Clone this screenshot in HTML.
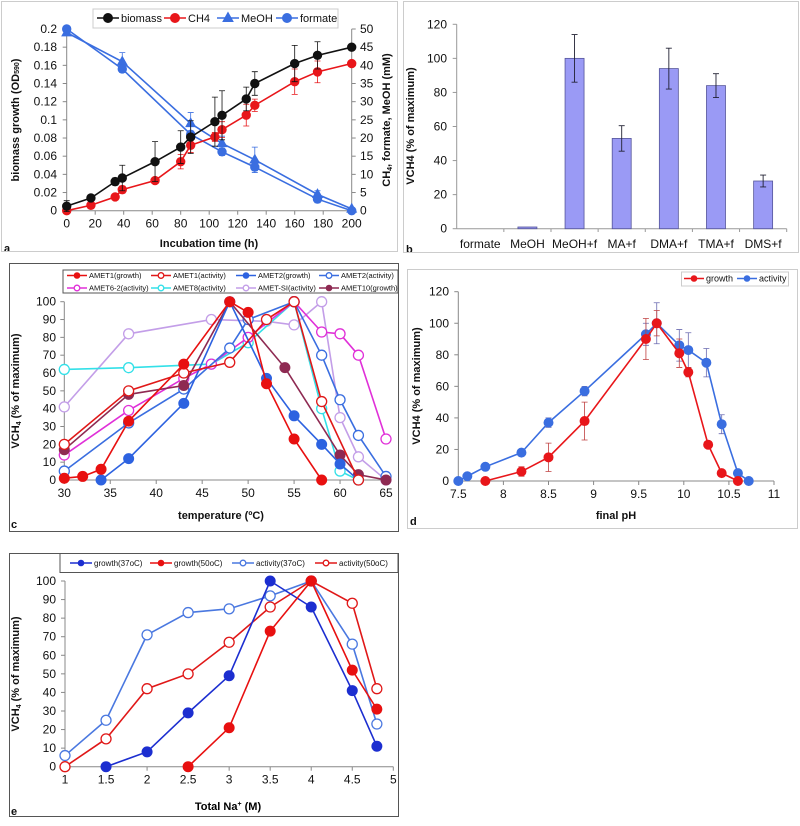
<!DOCTYPE html>
<html><head><meta charset="utf-8"><style>
html,body{margin:0;padding:0;background:#fff;}
svg{display:block;font-family:"Liberation Sans",Arial,sans-serif;}
</style></head><body>
<svg id="fig" width="800" height="826" viewBox="0 0 800 826" xmlns="http://www.w3.org/2000/svg"></svg>
<script>
// ---------- Panel a data ----------
const aBioX=[0,17,34,39,62,80,87,104,109,126,132,160,176,200];
const aBioY=[0.005,0.014,0.032,0.036,0.054,0.070,0.081,0.098,0.105,0.123,0.140,0.162,0.171,0.180];
const aBioE=[0.006,0,0.004,0.014,0.022,0.018,0.018,0.027,0.027,0.013,0.013,0.020,0.015,0];
const aCh4X=[0,17,34,39,62,80,87,104,109,126,132,160,176,200];
const aCh4Y=[0,1.5,3.8,5.8,8.3,13.5,18,20.3,22.3,26.3,29,35.5,38.2,40.5];
const aCh4E=[0,0,0,1,0,2,2,1.2,2.2,3,1.7,3.5,3,0];
const aMeohX=[0,39,87,109,132,176,200];
const aMeohY=[49,41,24,18.5,14,4.5,0.5];
const aMeohE=[0,2.5,3,2,3.5,1,0];
const aFormX=[0,39,87,109,132,176,200];
const aFormY=[50,39,21,16.2,12,3.2,0];
const aFormE=[0,1,1,1,1,1,0];
const aXTicks=[0,20,40,60,80,100,120,140,160,180,200];
const aYTicks=[0,0.02,0.04,0.06,0.08,0.1,0.12,0.14,0.16,0.18,0.2];
const aY2Ticks=[0,5,10,15,20,25,30,35,40,45,50];
// ---------- Panel b data ----------
const bCats=["formate","MeOH","MeOH+f","MA+f","DMA+f","TMA+f","DMS+f"];
const bVals=[0,1,100,53,94,84,28];
const bErrs=[0,0.3,14,7.5,12,7,3.5];
const bYTicks=[0,20,40,60,80,100,120];
// ---------- Panel c data ----------
const cAmet1gX=[30,32,34,37,43,48,50,52,55,58];
const cAmet1gY=[1,2,6,33,65,100,94,54,23,0];
const cAmet1aX=[30,37,43,48,52,55,58,62];
const cAmet1aY=[20,50,60,66,90,100,44,0];
const cAmet2gX=[34,37,43,48,52,55,58,60,62];
const cAmet2gY=[0,12,43,100,57,36,20,9,0];
const cAmet2aX=[30,37,43,48,50,55,58,60,62,65];
const cAmet2aY=[5,32,51,74,90,100,70,45,25,2];
const cAmet62aX=[30,37,43,46,50,55,58,60,62,65];
const cAmet62aY=[14,39,57,65,80,100,83,82,70,23];
const cAmet8aX=[30,37,46,50,55,58,60,62];
const cAmet8aY=[62,63,65,77,100,40,5,0];
const cAmetSIaX=[30,37,46,52,55,58,60,62,65];
const cAmetSIaY=[41,82,90,89,87,100,35,13,0];
const cAmet10gX=[30,37,43,48,54,60,62,65];
const cAmet10gY=[17,48,53,100,63,14,3,0];
const cXTicks=[30,35,40,45,50,55,60,65];
const cYTicks=[0,10,20,30,40,50,60,70,80,90,100];
// ---------- Panel d data ----------
const dGrowX=[7.8,8.2,8.5,8.9,9.58,9.7,9.95,10.05,10.27,10.42,10.6];
const dGrowY=[0,6,15,38,90,100,81,69,23,5,0];
const dGrowE=[0,3,9,12,13,8,9,3,0,0,0];
const dActX=[7.5,7.6,7.8,8.2,8.5,8.9,9.58,9.7,9.95,10.05,10.25,10.42,10.6,10.72];
const dActY=[0,3,9,18,37,57,93,100,86,83,75,36,5,0];
const dActE=[0,0,1,2,3,3,7,13,10,11,9,6,0,0];
const dXTicks=[7.5,8,8.5,9,9.5,10,10.5,11];
const dYTicks=[0,20,40,60,80,100,120];
// ---------- Panel e data ----------
const eG37X=[1.5,2,2.5,3,3.5,4,4.5,4.8];
const eG37Y=[0,8,29,49,100,86,41,11];
const eG50X=[2.5,3,3.5,4,4.5,4.8];
const eG50Y=[0,21,73,100,52,31];
const eA37X=[1,1.5,2,2.5,3,3.5,4,4.5,4.8];
const eA37Y=[6,25,71,83,85,92,100,66,23];
const eA50X=[1,1.5,2,2.5,3,3.5,4,4.5,4.8];
const eA50Y=[0,15,42,50,67,86,100,88,42];
const eXTicks=[1,1.5,2,2.5,3,3.5,4,4.5,5];
const eYTicks=[0,10,20,30,40,50,60,70,80,90,100];

const NS="http://www.w3.org/2000/svg";
const svg=document.getElementById('fig');
function mk(tag,a,p){const e=document.createElementNS(NS,tag);for(const k in a)e.setAttribute(k,a[k]);(p||svg).appendChild(e);return e;}
function lin(d0,d1,r0,r1){return v=>r0+(v-d0)/(d1-d0)*(r1-r0);}
function txt(p,x,y,s,size,anchor,weight,rot){const t=mk('text',{x:x,y:y,'font-size':size,'text-anchor':anchor||'middle','font-weight':weight||'normal',fill:'#111'},p);if(rot)t.setAttribute('transform','rotate(-90 '+x+' '+y+')');t.textContent=s;return t;}
function marker(p,shape,x,y,r,col,filled){
  let m;
  if(shape==='tri'){m=mk('polygon',{points:(x)+','+(y-r-1)+' '+(x-r-0.5)+','+(y+r-1)+' '+(x+r+0.5)+','+(y+r-1),fill:col,stroke:col},p);}
  else m=mk('circle',{cx:x,cy:y,r:r,fill:filled?col:'#fff',stroke:col,'stroke-width':filled?1:1.3},p);
  return m;
}
function series(p,name,xs,ys,sx,sy,col,shape,r,filled,errs,errCol){
  const g=mk('g',{},p);
  
  
  if(errs){xs.forEach((x,i)=>{if(!errs[i])return;const X=sx(x),y1=sy(ys[i]-errs[i]),y2=sy(ys[i]+errs[i]);
    mk('path',{d:`M${X},${y1}V${y2}M${X-3},${y1}h6M${X-3},${y2}h6`,stroke:errCol||col,'stroke-width':0.8,fill:'none'},g);});}
  const pts=xs.map((x,i)=>sx(x)+','+sy(ys[i])).join(' ');
  const pl=mk('polyline',{points:pts,fill:'none',stroke:col,'stroke-width':1.6},g);
  
  
  xs.forEach((x,i)=>{const m=marker(g,shape,sx(x),sy(ys[i]),r,col,filled);
    
    });
  return g;
}
function box(x,y,w,h,col,name){const r=mk('rect',{x:x,y:y,width:w,height:h,fill:'none',stroke:col,'stroke-width':1});
  
  }
function axes(p,sx,sy,xt,yt,x0,x1,y0,y1,ytx,yfmt,xfmt,fs){
  mk('path',{d:`M${x0},${y0}H${x1}M${x0},${y0}V${y1}`,stroke:'#888','stroke-width':1,fill:'none'},p);
  xt.forEach(v=>{const X=sx(v);mk('line',{x1:X,x2:X,y1:y0,y2:y0+4,stroke:'#888'},p);const t=txt(p,X,y0+17,xfmt?xfmt(v):String(v),fs||12);
    
    });
  yt.forEach(v=>{const Y=sy(v);mk('line',{x1:x0-4,x2:x0,y1:Y,y2:Y,stroke:'#888'},p);const t=txt(p,ytx,Y+4,yfmt?yfmt(v):String(v),fs||12,'end');
    
    });
}
function legItem(p,x,y,len,col,shape,filled,label,fs,name){
  const g=mk('g',{},p);
  
  
  mk('line',{x1:x,x2:x+len,y1:y,y2:y,stroke:col,'stroke-width':1.6},g);
  marker(g,shape,x+len/2,y,fs>9?4.5:2.8,col,filled);
  txt(g,x+len+2,y+fs*0.35,label,fs,'start');
}
const RED='#e8161a',BLUE='#3a6ee0';

// ===== Panel a =====
(function(){
  const p=mk('g',{});
  box(1.5,1.5,396,250,'#ccc','panel-a-frame');
  const sx=lin(0,200,66.7,351.7),sy=lin(0,0.2,210.7,29),sy2=lin(0,50,210.7,29);
  axes(p,sx,sy,aXTicks,aYTicks,66.7,351.7,210.7,29,57,v=>String(+v.toFixed(2)));
  mk('line',{x1:351.7,x2:351.7,y1:210.7,y2:29,stroke:'#888'},p);
  aY2Ticks.forEach(v=>{const Y=sy2(v);mk('line',{x1:351.7,x2:355.7,y1:Y,y2:Y,stroke:'#888'},p);const t=txt(p,360,Y+4,String(v),12,'start');
    
    });
  const t1=txt(p,19,120,'biomass growth (OD',11,'middle','bold',true);
  const ts=mk('tspan',{'font-size':7,dy:0},t1);ts.textContent='590';const ts2=mk('tspan',{},t1);ts2.textContent=')';
  
  const t2=txt(p,390,120,'CH',11,'middle','bold',true);
  const s1=mk('tspan',{'font-size':7,dy:2},t2);s1.textContent='4';const s2=mk('tspan',{dy:-2},t2);s2.textContent=', formate, MeOH (mM)';
  
  const t3=txt(p,209,247,'Incubation time (h)',11,'middle','bold');
  
  const la=txt(p,4,252,'a',11,'start','bold');
  series(p,'series-meoh',aMeohX,aMeohY,sx,sy2,BLUE,'tri',4.2,true,aMeohE);
  series(p,'series-formate',aFormX,aFormY,sx,sy2,BLUE,'circle',4.2,true,aFormE);
  series(p,'series-ch4',aCh4X,aCh4Y,sx,sy2,RED,'circle',4.2,true,aCh4E);
  series(p,'series-biomass',aBioX,aBioY,sx,sy,'#111','circle',4.2,true,aBioE);
  const lg=mk('g',{},p);
  mk('rect',{x:93,y:9,width:245,height:19,fill:'#fff',stroke:'#ccc'},lg);
  legItem(lg,97,18,22,'#111','circle',true,'biomass',11,'legend-biomass');
  legItem(lg,164,18,22,RED,'circle',true,'CH4',11,'legend-ch4');
  legItem(lg,217,18,22,BLUE,'tri',true,'MeOH',11,'legend-meoh');
  legItem(lg,276,18,22,BLUE,'circle',true,'formate',11,'legend-formate');
})();

// ===== Panel b =====
(function(){
  const p=mk('g',{});
  box(403.5,1.5,395,251,'#ccc','panel-b-frame');
  const x0=456.7,x1=786.7,bw=(x1-x0)/bCats.length,sy=lin(0,120,228.7,24.3);
  mk('path',{d:`M${x0},228.7H${x1}M${x0},228.7V24.3`,stroke:'#999',fill:'none'},p);
  bYTicks.forEach(v=>{const Y=sy(v);mk('line',{x1:x0-4,x2:x0,y1:Y,y2:Y,stroke:'#999'},p);const t=txt(p,447,Y+4,String(v),12,'end');
    });
  bCats.forEach((c,i)=>{const cx=x0+bw*(i+0.5);mk('line',{x1:x0+bw*(i+1),x2:x0+bw*(i+1),y1:228.7,y2:232,stroke:'#999'},p);
    const t=txt(p,cx,248,c,12);
    const y=sy(bVals[i]);const r=mk('rect',{x:cx-9.5,y:y,width:19,height:228.7-y,fill:'#9a9af5',stroke:'#55559a','stroke-width':0.8},p);
    
    if(bErrs[i]>0.5){const y1=sy(bVals[i]-bErrs[i]),y2=sy(bVals[i]+bErrs[i]);mk('path',{d:`M${cx},${y1}V${y2}M${cx-3},${y1}h6M${cx-3},${y2}h6`,stroke:'#223',fill:'none','stroke-width':0.9},p);}
  });
  const t=txt(p,414,126,'VCH4 (% of maximum)',11,'middle','bold',true);
  const lb=txt(p,406,253,'b',11,'start','bold');
})();

// ===== Panel c =====
(function(){
  const p=mk('g',{});
  box(9.5,263.5,389,268,'#555','panel-c-frame');
  const sx=lin(30,65,64.3,386),sy=lin(0,100,480,301.7);
  axes(p,sx,sy,cXTicks,cYTicks,64.3,386,480,301.7,56);
  const t=txt(p,19,391,'VCH',11,'middle','bold',true);const s=mk('tspan',{'font-size':7,dy:2},t);s.textContent='4';const s2=mk('tspan',{dy:-2},t);s2.textContent=' (% of maximum)';
  
  const xt=txt(p,221,519,'temperature (ºC)',11,'middle','bold');
  const lc=txt(p,11,528,'c',11,'start','bold');
  series(p,'series-amet-si-activity',cAmetSIaX,cAmetSIaY,sx,sy,'#c39ee8','circle',5,false);
  series(p,'series-amet8-activity',cAmet8aX,cAmet8aY,sx,sy,'#33e0e8','circle',5,false);
  series(p,'series-amet6-2-activity',cAmet62aX,cAmet62aY,sx,sy,'#e030d8','circle',5,false);
  series(p,'series-amet2-activity',cAmet2aX,cAmet2aY,sx,sy,'#3a6ee0','circle',5,false);
  series(p,'series-amet10-growth',cAmet10gX,cAmet10gY,sx,sy,'#8e2a52','circle',5,true);
  series(p,'series-amet2-growth',cAmet2gX,cAmet2gY,sx,sy,'#2d62e0','circle',5,true);
  series(p,'series-amet1-activity',cAmet1aX,cAmet1aY,sx,sy,'#e01818','circle',5,false);
  series(p,'series-amet1-growth',cAmet1gX,cAmet1gY,sx,sy,'#e81010','circle',5,true);
  const lg=mk('g',{},p);
  mk('rect',{x:63,y:270,width:335,height:23,fill:'#fff',stroke:'#555'},lg);
  legItem(lg,67,275.5,20,'#e81010','circle',true,'AMET1(growth)',7.5,'legend-amet1-growth');
  legItem(lg,151,275.5,20,'#e01818','circle',false,'AMET1(activity)',7.5,'legend-amet1-activity');
  legItem(lg,236,275.5,20,'#2d62e0','circle',true,'AMET2(growth)',7.5,'legend-amet2-growth');
  legItem(lg,319,275.5,20,'#3a6ee0','circle',false,'AMET2(activity)',7.5,'legend-amet2-activity');
  legItem(lg,67,288,20,'#e030d8','circle',false,'AMET6-2(activity)',7.5,'legend-amet6-2-activity');
  legItem(lg,151,288,20,'#33e0e8','circle',false,'AMET8(activity)',7.5,'legend-amet8-activity');
  legItem(lg,236,288,20,'#c39ee8','circle',false,'AMET-SI(activity)',7.5,'legend-amet-si-activity');
  legItem(lg,319,288,20,'#8e2a52','circle',true,'AMET10(growth)',7.5,'legend-amet10-growth');
})();

// ===== Panel d =====
(function(){
  const p=mk('g',{});
  box(407.5,269.5,390,259,'#ccc','panel-d-frame');
  const sx=lin(7.5,11,458.3,774),sy=lin(0,120,481,291.7);
  axes(p,sx,sy,dXTicks,dYTicks,458.3,774,481,291.7,449);
  const t=txt(p,420,386,'VCH4 (% of maximum)',11,'middle','bold',true);
  const xt=txt(p,616,519,'final pH',11,'middle','bold');
  const ld=txt(p,410,525,'d',11,'start','bold');
  series(p,'series-activity',dActX,dActY,sx,sy,BLUE,'circle',4.5,true,dActE,'#6a6ab0');
  series(p,'series-growth',dGrowX,dGrowY,sx,sy,RED,'circle',4.5,true,dGrowE,'#c04040');
  const lg=mk('g',{},p);
  mk('rect',{x:681.5,y:272,width:107,height:14,fill:'#fff',stroke:'#ccc'},lg);
  legItem(lg,684,278.5,20,RED,'circle',true,'growth',9,'legend-growth');
  legItem(lg,737,278.5,20,BLUE,'circle',true,'activity',9,'legend-activity');
})();

// ===== Panel e =====
(function(){
  const p=mk('g',{});
  box(9.5,553.5,389,263,'#555','panel-e-frame');
  const sx=lin(1,5,65,393.3),sy=lin(0,100,766.7,581);
  axes(p,sx,sy,eXTicks,eYTicks,65,393.3,766.7,581,56);
  const t=txt(p,19,674,'VCH',11,'middle','bold',true);const s=mk('tspan',{'font-size':7,dy:2},t);s.textContent='4';const s2=mk('tspan',{dy:-2},t);s2.textContent=' (% of maximum)';
  
  const xt=mk('text',{x:228,y:810,'font-size':11,'text-anchor':'middle','font-weight':'bold'},p);
  xt.textContent='Total Na';const sp=mk('tspan',{'font-size':7,dy:-4},xt);sp.textContent='+';const sp2=mk('tspan',{dy:4},xt);sp2.textContent=' (M)';
  
  const le=txt(p,11,815,'e',11,'start','bold');
  series(p,'series-activity-37c',eA37X,eA37Y,sx,sy,'#4a78e0','circle',5,false);
  series(p,'series-activity-50c',eA50X,eA50Y,sx,sy,'#e01818','circle',5,false);
  series(p,'series-growth-37c',eG37X,eG37Y,sx,sy,'#1c2ed0','circle',5,true);
  series(p,'series-growth-50c',eG50X,eG50Y,sx,sy,'#e81010','circle',5,true);
  const lg=mk('g',{},p);
  mk('rect',{x:60,y:553.5,width:338,height:19,fill:'#fff',stroke:'#555'},lg);
  legItem(lg,70,563,22,'#1c2ed0','circle',true,'growth(37oC)',8,'legend-growth-37c');
  legItem(lg,150,563,22,'#e81010','circle',true,'growth(50oC)',8,'legend-growth-50c');
  legItem(lg,232,563,22,'#4a78e0','circle',false,'activity(37oC)',8,'legend-activity-37c');
  legItem(lg,315,563,22,'#e01818','circle',false,'activity(50oC)',8,'legend-activity-50c');
})();
</script>
</body></html>
